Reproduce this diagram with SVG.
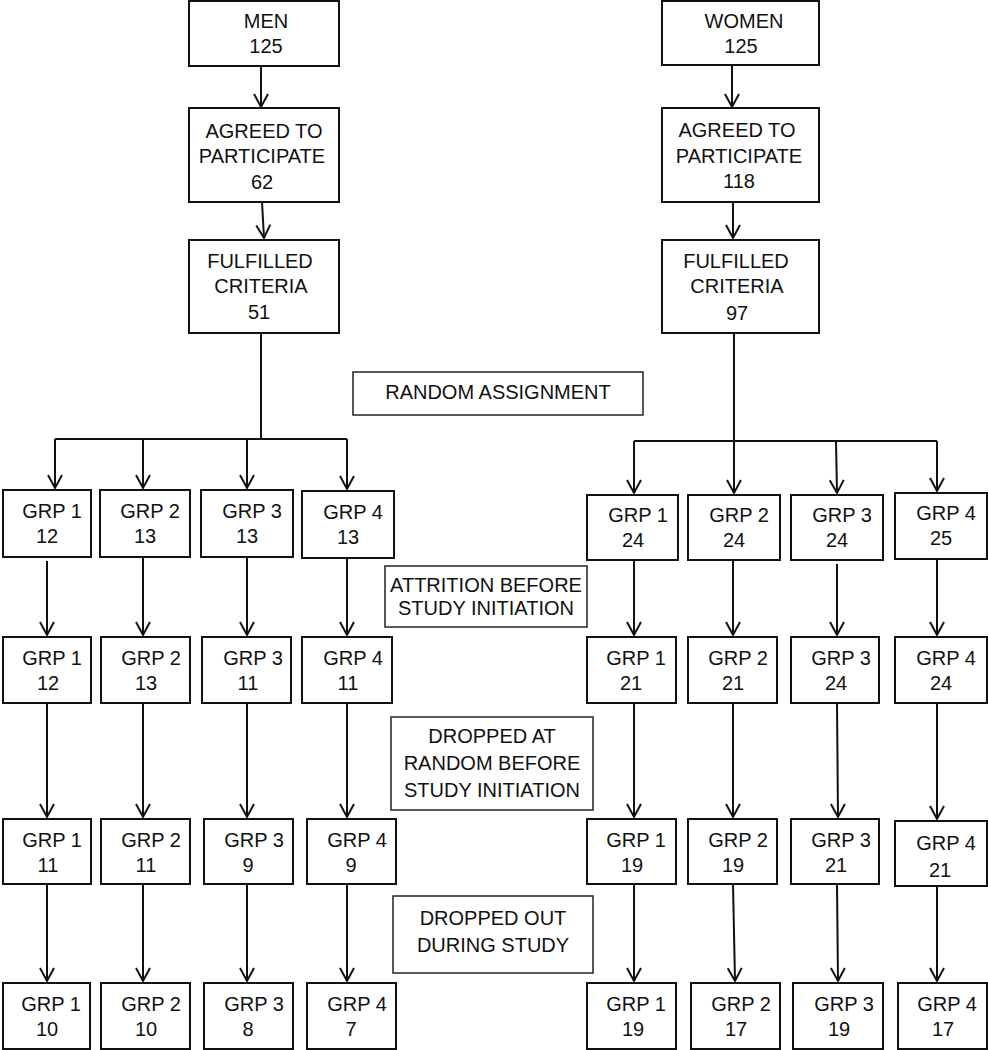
<svg xmlns="http://www.w3.org/2000/svg" width="988" height="1050" viewBox="0 0 988 1050">
<defs>
<marker id="ah" markerUnits="userSpaceOnUse" markerWidth="22" markerHeight="22" viewBox="-17 -11 22 22" refX="0" refY="0" orient="auto" overflow="visible">
<path d="M-13,-7 L0,0 L-13,7" fill="none" stroke="#111" stroke-width="2"/>
</marker>
</defs>
<style>
.b{fill:#fff;stroke:#111;stroke-width:2}
.l{fill:#fff;stroke:#222;stroke-width:1.5}
.c{fill:none;stroke:#111;stroke-width:2}
.a{fill:none;stroke:#111;stroke-width:2;marker-end:url(#ah)}
text{font-family:"Liberation Sans",Arial,Helvetica,sans-serif;font-size:20px;fill:#111;text-anchor:middle}
</style>
<rect width="988" height="1050" fill="#fff"/>
<g id="connectors">
<path class="a" d="M261,66 L261,107"/>
<path class="a" d="M262,202 L264,238"/>
<path class="c" d="M261,333 L261,439 M55,439 L347,439"/>
<path class="a" d="M55,439 L55,488"/>
<path class="a" d="M143,439 L143,488"/>
<path class="a" d="M247,439 L247,488"/>
<path class="a" d="M347,439 L347,489"/>
<path class="a" d="M732,65 L732,107"/>
<path class="a" d="M733,202 L733,238"/>
<path class="c" d="M734,333 L734,441 M634,441 L937,441"/>
<path class="a" d="M634,441 L634,493"/>
<path class="a" d="M734,441 L734,493"/>
<path class="a" d="M836,441 L837,493"/>
<path class="a" d="M937,441 L937,491"/>
<path class="a" d="M47,561 L47,635"/>
<path class="a" d="M143,557 L143,635"/>
<path class="a" d="M247,557 L247,635"/>
<path class="a" d="M347,558 L347,635"/>
<path class="a" d="M634,560 L634,635"/>
<path class="a" d="M733,560 L733,635"/>
<path class="a" d="M837,564 L837,635"/>
<path class="a" d="M937,559 L937,635"/>
<path class="a" d="M47,703 L47,817"/>
<path class="a" d="M143,703 L143,817"/>
<path class="a" d="M247,703 L247,817"/>
<path class="a" d="M347,703 L347,817"/>
<path class="a" d="M634,703 L634,817"/>
<path class="a" d="M733,703 L733,817"/>
<path class="a" d="M837,703 L838,817"/>
<path class="a" d="M937,703 L937,819"/>
<path class="a" d="M47,884 L47,981"/>
<path class="a" d="M143,884 L143,981"/>
<path class="a" d="M247,884 L247,981"/>
<path class="a" d="M347,884 L347,981"/>
<path class="a" d="M634,884 L634,981"/>
<path class="a" d="M733,884 L735,981"/>
<path class="a" d="M837,884 L838,981"/>
<path class="a" d="M937,886 L937,981"/>
</g>
<g id="men"><rect class="b" x="189" y="1" width="150" height="65"/><text x="266" y="28">MEN</text><text x="266" y="53">125</text></g>
<g id="men-agreed"><rect class="b" x="189" y="108" width="150" height="94"/><text x="264" y="138">AGREED TO</text><text x="262" y="163">PARTICIPATE</text><text x="262" y="189">62</text></g>
<g id="men-fulfilled"><rect class="b" x="189" y="240" width="150" height="93"/><text x="260" y="268">FULFILLED</text><text x="261" y="293">CRITERIA</text><text x="259" y="319">51</text></g>
<g id="women"><rect class="b" x="662" y="1" width="157" height="64"/><text x="744" y="28">WOMEN</text><text x="741" y="53">125</text></g>
<g id="women-agreed"><rect class="b" x="662" y="108" width="157" height="94"/><text x="737" y="137">AGREED TO</text><text x="739" y="163">PARTICIPATE</text><text x="739" y="188">118</text></g>
<g id="women-fulfilled"><rect class="b" x="662" y="240" width="157" height="93"/><text x="736" y="268">FULFILLED</text><text x="737" y="293">CRITERIA</text><text x="737" y="320">97</text></g>
<g id="random-assignment"><rect class="l" x="353" y="372" width="290" height="43"/><text x="498" y="399">RANDOM ASSIGNMENT</text></g>
<g id="attrition"><rect class="l" x="385" y="566" width="202" height="61"/><text x="486" y="592">ATTRITION BEFORE</text><text x="486" y="615">STUDY INITIATION</text></g>
<g id="dropped-random"><rect class="l" x="391" y="717" width="202" height="93"/><text x="492" y="743">DROPPED AT</text><text x="492" y="770">RANDOM BEFORE</text><text x="492" y="797">STUDY INITIATION</text></g>
<g id="dropped-out"><rect class="l" x="393" y="896" width="200" height="77"/><text x="493" y="925">DROPPED OUT</text><text x="493" y="952">DURING STUDY</text></g>
<g id="m-r1-g1"><rect class="b" x="3" y="490" width="88" height="67"/><text x="52" y="518">GRP 1</text><text x="47" y="543">12</text></g>
<g id="m-r1-g2"><rect class="b" x="100" y="490" width="90" height="67"/><text x="150" y="518">GRP 2</text><text x="145" y="543">13</text></g>
<g id="m-r1-g3"><rect class="b" x="201" y="490" width="92" height="67"/><text x="252" y="518">GRP 3</text><text x="247" y="543">13</text></g>
<g id="m-r1-g4"><rect class="b" x="302" y="491" width="92" height="67"/><text x="353" y="519">GRP 4</text><text x="348" y="544">13</text></g>
<g id="m-r2-g1"><rect class="b" x="3" y="637" width="88" height="66"/><text x="52" y="665">GRP 1</text><text x="48" y="690">12</text></g>
<g id="m-r2-g2"><rect class="b" x="101" y="637" width="89" height="66"/><text x="151" y="665">GRP 2</text><text x="146" y="690">13</text></g>
<g id="m-r2-g3"><rect class="b" x="202" y="637" width="89" height="66"/><text x="253" y="665">GRP 3</text><text x="248" y="690">11</text></g>
<g id="m-r2-g4"><rect class="b" x="302" y="637" width="90" height="66"/><text x="353" y="665">GRP 4</text><text x="348" y="690">11</text></g>
<g id="m-r3-g1"><rect class="b" x="3" y="819" width="88" height="65"/><text x="52" y="847">GRP 1</text><text x="48" y="872">11</text></g>
<g id="m-r3-g2"><rect class="b" x="101" y="819" width="89" height="65"/><text x="151" y="847">GRP 2</text><text x="146" y="872">11</text></g>
<g id="m-r3-g3"><rect class="b" x="204" y="819" width="89" height="65"/><text x="254" y="847">GRP 3</text><text x="248" y="872">9</text></g>
<g id="m-r3-g4"><rect class="b" x="307" y="819" width="89" height="65"/><text x="357" y="847">GRP 4</text><text x="351" y="872">9</text></g>
<g id="m-r4-g1"><rect class="b" x="3" y="983" width="87" height="66"/><text x="51" y="1011">GRP 1</text><text x="47" y="1036">10</text></g>
<g id="m-r4-g2"><rect class="b" x="101" y="983" width="89" height="66"/><text x="151" y="1011">GRP 2</text><text x="146" y="1036">10</text></g>
<g id="m-r4-g3"><rect class="b" x="204" y="983" width="89" height="66"/><text x="254" y="1011">GRP 3</text><text x="248" y="1036">8</text></g>
<g id="m-r4-g4"><rect class="b" x="307" y="983" width="89" height="66"/><text x="357" y="1011">GRP 4</text><text x="351" y="1036">7</text></g>
<g id="w-r1-g1"><rect class="b" x="587" y="495" width="91" height="65"/><text x="638" y="522">GRP 1</text><text x="633" y="547">24</text></g>
<g id="w-r1-g2"><rect class="b" x="688" y="495" width="92" height="65"/><text x="739" y="522">GRP 2</text><text x="734" y="547">24</text></g>
<g id="w-r1-g3"><rect class="b" x="791" y="495" width="92" height="65"/><text x="842" y="522">GRP 3</text><text x="837" y="547">24</text></g>
<g id="w-r1-g4"><rect class="b" x="895" y="493" width="92" height="66"/><text x="946" y="520">GRP 4</text><text x="941" y="545">25</text></g>
<g id="w-r2-g1"><rect class="b" x="587" y="637" width="89" height="66"/><text x="636" y="665">GRP 1</text><text x="631" y="690">21</text></g>
<g id="w-r2-g2"><rect class="b" x="688" y="637" width="89" height="66"/><text x="738" y="665">GRP 2</text><text x="733" y="690">21</text></g>
<g id="w-r2-g3"><rect class="b" x="791" y="637" width="88" height="66"/><text x="841" y="665">GRP 3</text><text x="836" y="690">24</text></g>
<g id="w-r2-g4"><rect class="b" x="895" y="637" width="92" height="66"/><text x="946" y="665">GRP 4</text><text x="941" y="690">24</text></g>
<g id="w-r3-g1"><rect class="b" x="587" y="819" width="89" height="65"/><text x="636" y="847">GRP 1</text><text x="632" y="872">19</text></g>
<g id="w-r3-g2"><rect class="b" x="688" y="819" width="89" height="65"/><text x="738" y="847">GRP 2</text><text x="733" y="872">19</text></g>
<g id="w-r3-g3"><rect class="b" x="791" y="819" width="88" height="65"/><text x="841" y="847">GRP 3</text><text x="836" y="872">21</text></g>
<g id="w-r3-g4"><rect class="b" x="895" y="821" width="92" height="65"/><text x="946" y="850">GRP 4</text><text x="940" y="877">21</text></g>
<g id="w-r4-g1"><rect class="b" x="587" y="983" width="89" height="66"/><text x="636" y="1011">GRP 1</text><text x="633" y="1036">19</text></g>
<g id="w-r4-g2"><rect class="b" x="691" y="983" width="89" height="66"/><text x="741" y="1011">GRP 2</text><text x="736" y="1036">17</text></g>
<g id="w-r4-g3"><rect class="b" x="793" y="983" width="90" height="66"/><text x="844" y="1011">GRP 3</text><text x="839" y="1036">19</text></g>
<g id="w-r4-g4"><rect class="b" x="898" y="983" width="89" height="66"/><text x="947" y="1011">GRP 4</text><text x="943" y="1036">17</text></g>
</svg>
